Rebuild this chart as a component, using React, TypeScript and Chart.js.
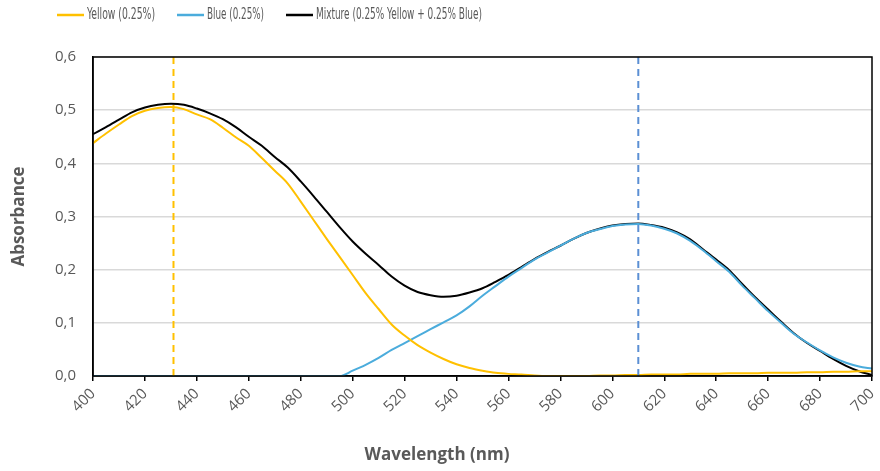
import { useEffect, useRef } from 'react';
import { Chart, registerables } from 'chart.js';

Chart.register(...registerables);

const WAVELENGTH = [
  400, 405, 410, 415, 420, 425, 430, 435, 440, 445, 450, 455, 460, 465, 470, 475, 480, 485, 490, 495,
  500, 505, 510, 515, 520, 525, 530, 535, 540, 545, 550, 555, 560, 565, 570, 575, 580, 585, 590, 595,
  600, 605, 610, 615, 620, 625, 630, 635, 640, 645, 650, 655, 660, 665, 670, 675, 680, 685, 690, 695, 700,
];

const YELLOW = [
  0.438, 0.456, 0.473, 0.489, 0.499, 0.504, 0.506, 0.502, 0.492, 0.483, 0.467, 0.449, 0.433, 0.41, 0.386, 0.362, 0.328, 0.293, 0.258, 0.224,
  0.19, 0.156, 0.126, 0.097, 0.076, 0.058, 0.044, 0.032, 0.022, 0.015, 0.01, 0.006, 0.004, 0.003, 0.001, 0.0, 0.0, 0.0, 0.0, 0.001,
  0.001, 0.002, 0.002, 0.003, 0.003, 0.003, 0.004, 0.004, 0.004, 0.005, 0.005, 0.005, 0.006, 0.006, 0.006, 0.007, 0.007, 0.008, 0.008, 0.009, 0.009,
];

const BLUE = [
  0, 0, 0, 0, 0, 0, 0, 0, 0, 0, 0, 0, 0, 0, 0, 0, 0, 0, 0, 0,
  0.01, 0.021, 0.034, 0.049, 0.062, 0.075, 0.088, 0.101, 0.114, 0.131, 0.151, 0.169, 0.187, 0.203, 0.219, 0.232, 0.245, 0.258, 0.269, 0.276,
  0.282, 0.285, 0.286, 0.283, 0.277, 0.268, 0.254, 0.236, 0.216, 0.196, 0.17, 0.146, 0.122, 0.1, 0.079, 0.063, 0.048, 0.035, 0.025, 0.018, 0.014,
];

const MIXTURE = [
  0.455, 0.468, 0.482, 0.496, 0.505, 0.51, 0.512, 0.51, 0.503, 0.494, 0.483, 0.468, 0.45, 0.433, 0.412, 0.392, 0.366, 0.338, 0.309, 0.28,
  0.253, 0.23, 0.209, 0.187, 0.17, 0.158, 0.152, 0.149, 0.151, 0.157, 0.165, 0.177, 0.19, 0.205, 0.22, 0.233, 0.245, 0.258, 0.269, 0.277,
  0.283, 0.286, 0.287, 0.284, 0.279, 0.27, 0.257, 0.238, 0.219, 0.199, 0.173, 0.148, 0.125, 0.102, 0.08, 0.062, 0.047, 0.032, 0.019, 0.009, 0.002,
];

const YELLOW_PEAK = [431, 431];
const BLUE_PEAK = [610, 610];
const PEAK_RANGE = [0, 0.6];

const SERIES_LABELS = ['Yellow (0.25%)', 'Blue (0.25%)', 'Mixture (0.25% Yellow + 0.25% Blue)'];
const SERIES_COLORS = ['#FFC000', '#4BACDC', '#000000'];
const X_TITLE = 'Wavelength (nm)';
const Y_TITLE = 'Absorbance';

const toPoints = (xs: number[], ys: number[]) => xs.map((x, i) => ({ x, y: ys[i] }));

const overlayPlugin = {
  id: 'overlay',
  afterDraw(chart: any) {
    const { ctx, chartArea: a } = chart;
    ctx.save();
    ctx.strokeStyle = '#000000';
    ctx.lineWidth = 1.5;
    ctx.strokeRect(a.left, a.top, a.right - a.left, a.bottom - a.top);

    const items = [
      { lx: 57, tx: 87, w: 68 },
      { lx: 177, tx: 207, w: 57 },
      { lx: 286, tx: 316, w: 166 },
    ];
    ctx.font = '16px "DejaVu Sans Condensed", "Liberation Sans Narrow", "Open Sans", sans-serif';
    ctx.textBaseline = 'middle';
    ctx.textAlign = 'left';
    items.forEach((it, i) => {
      ctx.strokeStyle = SERIES_COLORS[i];
      ctx.lineWidth = 2.5;
      ctx.beginPath();
      ctx.moveTo(it.lx, 15);
      ctx.lineTo(it.lx + 27, 15);
      ctx.stroke();
      ctx.fillStyle = '#595959';
      ctx.fillText(SERIES_LABELS[i], it.tx, 15, it.w);
    });

    ctx.font = 'bold 17px "Open Sans", sans-serif';
    ctx.fillStyle = '#595959';
    ctx.textAlign = 'center';
    ctx.fillText(X_TITLE, 437, 455);
    ctx.restore();
  },
};

export default function App() {
  const ref = useRef<HTMLCanvasElement | null>(null);

  useEffect(() => {
    document.body.style.margin = '0';
    const canvas = ref.current;
    if (!canvas) return;
    const chart = new Chart(canvas, {
      type: 'line',
      data: {
        datasets: [
          {
            label: 'yellow peak',
            data: toPoints(YELLOW_PEAK, PEAK_RANGE),
            borderColor: '#FFC000',
            borderWidth: 2,
            borderDash: [7, 5],
            pointRadius: 0,
          },
          {
            label: 'blue peak',
            data: toPoints(BLUE_PEAK, PEAK_RANGE),
            borderColor: '#5B8FD4',
            borderWidth: 2,
            borderDash: [7, 5],
            pointRadius: 0,
          },
          {
            label: SERIES_LABELS[0],
            data: toPoints(WAVELENGTH, YELLOW),
            borderColor: SERIES_COLORS[0],
            borderWidth: 2,
            pointRadius: 0,
            cubicInterpolationMode: 'monotone',
          },
          {
            label: SERIES_LABELS[1],
            data: toPoints(WAVELENGTH, BLUE),
            borderColor: SERIES_COLORS[1],
            borderWidth: 2,
            pointRadius: 0,
            cubicInterpolationMode: 'monotone',
          },
          {
            label: SERIES_LABELS[2],
            data: toPoints(WAVELENGTH, MIXTURE),
            borderColor: SERIES_COLORS[2],
            borderWidth: 2,
            pointRadius: 0,
            cubicInterpolationMode: 'monotone',
          },
        ],
      },
      options: {
        animation: false,
        responsive: false,
        devicePixelRatio: 1,
        layout: { padding: { top: 57, right: 8, left: 0, bottom: 0 } },
        plugins: {
          legend: { display: false },
          tooltip: { enabled: false },
        },
        scales: {
          x: {
            type: 'linear',
            min: 400,
            max: 700,
            afterFit: (s: any) => {
              s.height = 95;
              s.paddingLeft = 0;
              s.paddingRight = 0;
            },
            ticks: {
              stepSize: 20,
              minRotation: 45,
              maxRotation: 45,
              padding: 4,
              color: '#595959',
              font: { family: '"Open Sans", sans-serif', size: 15 },
              callback: (v: any) => String(v),
            },
            grid: {
              drawOnChartArea: false,
              drawTicks: true,
              tickLength: 5,
              color: '#000000',
              lineWidth: 1.5,
            },
            border: { display: true, color: '#000000', width: 1.5 },
          },
          y: {
            min: 0,
            max: 0.6,
            afterFit: (s: any) => {
              s.width = 93;
              s.paddingTop = 0;
              s.paddingBottom = 0;
            },
            ticks: {
              stepSize: 0.1,
              padding: 17,
              color: '#595959',
              font: { family: '"Open Sans", sans-serif', size: 15 },
              callback: (v: any) => Number(v).toFixed(1).replace('.', ','),
            },
            grid: {
              drawTicks: false,
              color: '#D9D9D9',
              lineWidth: 1.5,
            },
            border: { display: true, color: '#000000', width: 1.5 },
            title: {
              display: true,
              text: Y_TITLE,
              color: '#595959',
              font: { family: '"Open Sans", sans-serif', size: 17, weight: 'bold' },
              padding: { top: 9, bottom: 0 },
            },
          },
        },
      },
      plugins: [overlayPlugin],
    } as any);
    return () => chart.destroy();
  }, []);

  return (
    <div style={{ width: 880, height: 471 }}>
      <canvas ref={ref} width={880} height={471} style={{ display: 'block' }} />
    </div>
  );
}
